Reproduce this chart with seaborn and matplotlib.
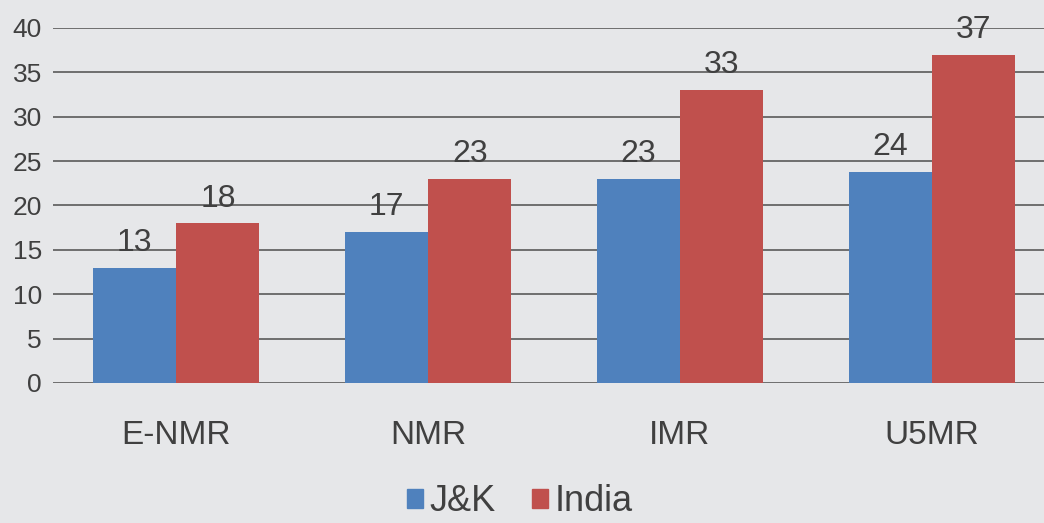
import matplotlib
matplotlib.use("Agg")
import matplotlib.pyplot as plt
import seaborn as sns
import pandas as pd

# Data
categories = ["E-NMR", "NMR", "IMR", "U5MR"]
jk_values = [13, 17, 23, 23.8]
india_values = [18, 23, 33, 37]
series_names = ["J&K", "India"]
bar_colors = ["#4F81BD", "#C0504D"]

bg = "#E6E7E9"
text_color = "#404040"

df = pd.DataFrame({
    "category": categories * 2,
    "value": jk_values + india_values,
    "series": [series_names[0]] * len(categories) + [series_names[1]] * len(categories),
})

sns.set_theme(style="white")
plt.rcParams["font.family"] = ["Liberation Sans", "DejaVu Sans"]

fig = plt.figure(figsize=(10.44, 5.23), dpi=100, facecolor=bg)
ax = fig.add_axes([0.0508, 0.2677, 0.955, 0.6788])
ax.set_facecolor(bg)

sns.barplot(data=df, x="category", y="value", hue="series", order=categories,
            hue_order=series_names, palette=bar_colors, width=0.66, gap=0,
            saturation=1, linewidth=0, ax=ax, legend=False)

for container in ax.containers:
    ax.bar_label(container, fmt="%.0f", padding=7, fontsize=23, color=text_color)

ax.set_ylim(0, 40)
ax.set_yticks(range(0, 41, 5))
ax.set_xlim(-0.49, 3.47)
ax.yaxis.grid(True, color="#5a5a5a", linewidth=1.2)
ax.set_axisbelow(True)
for s in ax.spines.values():
    s.set_visible(False)
ax.set_xlabel("")
ax.set_ylabel("")
ax.tick_params(axis="x", length=0, pad=27, labelsize=24, labelcolor=text_color)
ax.tick_params(axis="y", length=0, pad=8, labelsize=19, labelcolor=text_color)

handles = [plt.Rectangle((0, 0), 1, 1, color=c) for c in bar_colors]
ax.legend(handles, series_names, loc="center", bbox_to_anchor=(0.468, -0.335), ncol=2,
          frameon=False, fontsize=26, handlelength=0.45, handleheight=0.45,
          handletextpad=0.18, columnspacing=1.0, labelcolor=text_color,
          borderaxespad=0, borderpad=0)

fig.savefig("out.png", dpi=100, facecolor=bg)
